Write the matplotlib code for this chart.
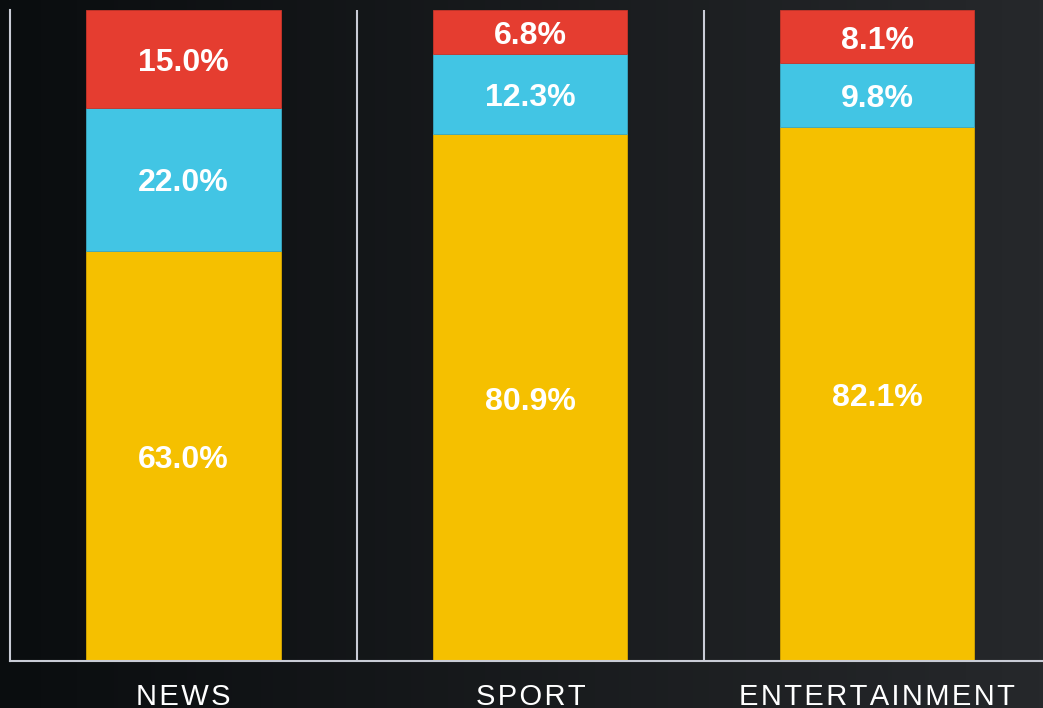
import numpy as np
import matplotlib
matplotlib.use("Agg")
import matplotlib.pyplot as plt

categories = ["NEWS", "SPORT", "ENTERTAINMENT"]
bottom_share = [63.0, 80.9, 82.1]
middle_share = [22.0, 12.3, 9.8]
top_share = [15.0, 6.8, 8.1]

YELLOW = "#f5c000"
BLUE = "#42c5e4"
RED = "#e53d30"
LINE = "#c9ccd6"

plt.rcParams["font.family"] = ["Liberation Sans", "DejaVu Sans"]

fig = plt.figure(figsize=(10.43, 7.08), dpi=100)

# background gradient, dark on the left, lighter grey on the right
bg = fig.add_axes([0, 0, 1, 1], zorder=-10)
grad = np.linspace(0, 1, 256)[None, :]
left = np.array([10, 13, 15]) / 255
right = np.array([38, 40, 43]) / 255
img = left[None, None, :] + (right - left)[None, None, :] * grad[..., None]
bg.imshow(img, aspect="auto", extent=[0, 1, 0, 1])
bg.axis("off")

W, H = 1043, 708
ax = fig.add_axes([10 / W, (H - 661) / H, (W - 10) / W, (661 - 10) / H])
ax.patch.set_alpha(0)

x = np.arange(len(categories))
width = 0.56
b1 = np.array(bottom_share)
b2 = b1 + np.array(middle_share)

ax.bar(x, bottom_share, width, color=YELLOW, edgecolor="#d9a800", linewidth=0.6)
ax.bar(x, middle_share, width, bottom=b1, color=BLUE, edgecolor="#3aa9c4", linewidth=0.6)
ax.bar(x, top_share, width, bottom=b2, color=RED, edgecolor="#c9352a", linewidth=0.6)

for i in range(len(categories)):
    segs = [(0, bottom_share[i]), (b1[i], middle_share[i]), (b2[i], top_share[i])]
    for base, val in segs:
        ax.annotate(f"{val:.1f}%", (x[i], base + val / 2), xytext=(0, -3),
                    textcoords="offset points", ha="center", va="center",
                    color="white", fontsize=23, fontweight="bold")

for sep in [0.5, 1.5]:
    ax.axvline(sep, color=LINE, linewidth=1.5)

ax.set_xlim(-0.5, 2.478)
ax.set_ylim(0, 100)
ax.spines["top"].set_visible(False)
ax.spines["right"].set_visible(False)
for s in ["left", "bottom"]:
    ax.spines[s].set_color(LINE)
    ax.spines[s].set_linewidth(1.5)
ax.set_yticks([])
ax.set_xticks(x)
ax.set_xticklabels(["\u200a".join(c) for c in categories], color="white", fontsize=21)
ax.tick_params(axis="x", length=0, pad=16)

fig.savefig("out.png", dpi=100)
